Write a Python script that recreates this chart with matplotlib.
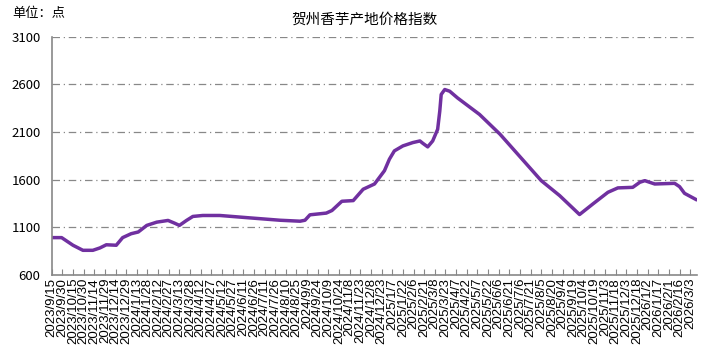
import pandas as pd
import matplotlib
matplotlib.use("Agg")
from matplotlib import pyplot as plt

plt.rcParams['font.family'] = ['Noto Sans CJK SC', 'DejaVu Sans']

# values
dates = ["2023-09-15", "2023-09-29", "2023-10-15", "2023-10-29", "2023-11-12",
         "2023-11-22", "2023-12-01", "2023-12-15", "2023-12-24", "2024-01-05",
         "2024-01-15", "2024-01-27", "2024-02-10", "2024-02-26", "2024-03-06",
         "2024-03-13", "2024-03-23", "2024-04-01", "2024-04-15", "2024-05-09",
         "2024-06-20", "2024-08-02", "2024-08-30", "2024-09-06", "2024-09-13",
         "2024-10-06", "2024-10-14", "2024-10-28", "2024-11-13", "2024-11-27",
         "2024-12-13", "2024-12-27", "2025-01-03", "2025-01-10", "2025-01-22",
         "2025-02-05", "2025-02-15", "2025-02-19", "2025-02-26", "2025-03-05",
         "2025-03-12", "2025-03-15", "2025-03-17", "2025-03-22", "2025-03-29",
         "2025-04-09", "2025-05-10", "2025-06-08", "2025-08-05", "2025-08-31",
         "2025-09-28", "2025-10-17", "2025-11-07", "2025-11-21", "2025-12-12",
         "2025-12-22", "2025-12-29", "2026-01-12", "2026-02-09", "2026-02-16",
         "2026-02-23", "2026-03-12"]
values = [993, 993, 913, 860, 860,
          885, 918, 913, 993, 1034,
          1052, 1121, 1155, 1173, 1145,
          1121, 1173, 1215, 1225, 1225,
          1200, 1175, 1165, 1175, 1232,
          1250, 1277, 1374, 1381, 1500,
          1555, 1694, 1815, 1902, 1954,
          1989, 2006, 1982, 1944, 2006,
          2128, 2319, 2493, 2545, 2527,
          2457, 2284, 2076, 1590, 1433,
          1235, 1347, 1468, 1514, 1520,
          1573, 1590, 1555, 1562, 1527,
          1457, 1389]

tick_dates = pd.date_range("2023-09-15", "2026-03-03", freq="15D")
tick_labels = [f"{d.year}/{d.month}/{d.day}" for d in tick_dates]

x = pd.to_datetime(dates)

fig = plt.figure(figsize=(7.13, 3.62), dpi=100)
ax = fig.add_axes([0.0725, 0.240, 0.9055, 0.659])

ax.plot(x, values, color="#7030A0", lw=2.5, solid_joinstyle="round", solid_capstyle="round")

ax.set_ylim(600, 3100)
ax.set_yticks([600, 1100, 1600, 2100, 2600, 3100])
ax.set_xlim(pd.Timestamp("2023-09-15"), pd.Timestamp("2026-03-13"))
ax.set_xticks(tick_dates)
ax.set_xticklabels(tick_labels, rotation=90, fontsize=9.5, family=['Liberation Sans', 'DejaVu Sans'])

for v in [1100, 1600, 2100, 2600, 3100]:
    ax.axhline(v, color="#888888", lw=0.9, ls=(0, (6, 3, 1, 3)), zorder=0)

for s in ["top", "right"]:
    ax.spines[s].set_visible(False)
ax.spines["left"].set_color("#888888")
ax.spines["bottom"].set_color("#888888")
ax.spines["left"].set_linewidth(1.2)
ax.spines["bottom"].set_linewidth(1.2)
ax.tick_params(axis="x", direction="in", length=4, color="#888888", pad=2)
ax.tick_params(axis="y", length=0, labelsize=9.5, pad=8)

fig.text(0.512, 0.945, "贺州香芋产地价格指数", ha="center", va="center", fontsize=10.5)
fig.text(0.017, 0.962, "单位：点", ha="left", va="center", fontsize=9.5)

fig.savefig("out.png", dpi=100)
